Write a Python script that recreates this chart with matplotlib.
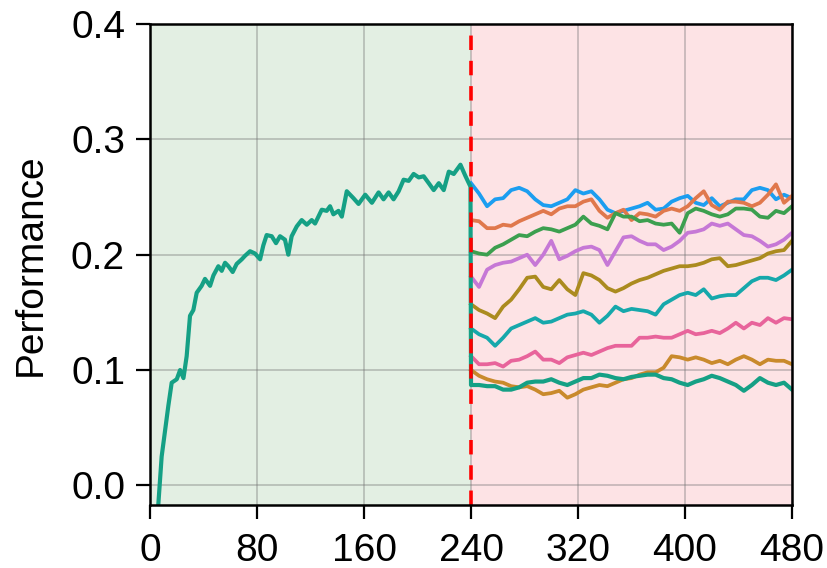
import matplotlib
matplotlib.use("Agg")
import matplotlib.pyplot as plt

plt.rcParams['font.family'] = ['Liberation Sans', 'DejaVu Sans']

# training phase (single run)
pre_x = [6, 8.7, 13.7, 16.2, 20, 22.5, 25, 27.4, 29.9, 32.4, 34.9, 38.6, 41.1, 44.9,
         47.4, 51.1, 53.6, 56.1, 58.6, 61.8, 64.8, 68.6, 71, 74.8, 78.5, 82.3, 84.7,
         87.2, 91, 94.2, 97.2, 100.9, 103.4, 105.9, 109.7, 113.4, 117.2, 120.9, 123.4,
         128.4, 132.1, 134.6, 137.1, 140.9, 143.4, 147.1, 152.1, 155.9, 160.9, 165.9,
         170.9, 174.6, 178.4, 182.1, 185.9, 189.6, 193.4, 197.1, 200.9, 204.6, 208.4,
         212.1, 215.9, 219.6, 223.4, 227.1, 232.1, 235.9, 239.6]
pre_y = [-0.02, 0.025, 0.069, 0.089, 0.092, 0.100, 0.093, 0.112, 0.147, 0.152, 0.167,
         0.173, 0.179, 0.173, 0.182, 0.190, 0.186, 0.193, 0.190, 0.185, 0.192, 0.196,
         0.199, 0.203, 0.201, 0.196, 0.208, 0.217, 0.216, 0.210, 0.216, 0.213, 0.200,
         0.216, 0.2245, 0.230, 0.226, 0.230, 0.227, 0.239, 0.238, 0.242, 0.235, 0.238,
         0.233, 0.255, 0.249, 0.244, 0.252, 0.245, 0.254, 0.248, 0.254, 0.248, 0.255,
         0.265, 0.264, 0.270, 0.267, 0.268, 0.262, 0.256, 0.262, 0.256, 0.272, 0.270,
         0.278, 0.268, 0.259]

# adaptation phase
post_x = [240, 246, 252, 258, 264, 270, 276, 282, 288, 294, 300, 306, 312, 318, 324,
          330, 336, 342, 348, 354, 360, 366, 372, 378, 384, 390, 396, 402, 408, 414,
          420, 426, 432, 438, 444, 450, 456, 462, 468, 474, 480]

blue = [0.262, 0.253, 0.242, 0.248, 0.249, 0.256, 0.258, 0.255, 0.248, 0.243, 0.242,
        0.245, 0.248, 0.256, 0.253, 0.255, 0.248, 0.239, 0.236, 0.238, 0.240, 0.242,
        0.245, 0.239, 0.240, 0.246, 0.249, 0.251, 0.245, 0.243, 0.249, 0.242, 0.245,
        0.248, 0.248, 0.256, 0.258, 0.256, 0.248, 0.252, 0.249]
orange = [0.230, 0.229, 0.223, 0.223, 0.226, 0.225, 0.229, 0.232, 0.235, 0.238, 0.235,
          0.240, 0.242, 0.242, 0.246, 0.248, 0.238, 0.232, 0.236, 0.239, 0.230, 0.236,
          0.235, 0.233, 0.238, 0.240, 0.238, 0.242, 0.249, 0.255, 0.243, 0.239, 0.246,
          0.246, 0.245, 0.242, 0.245, 0.252, 0.261, 0.245, 0.251]
green = [0.203, 0.201, 0.200, 0.206, 0.209, 0.213, 0.217, 0.216, 0.220, 0.223, 0.222,
         0.220, 0.223, 0.226, 0.233, 0.227, 0.225, 0.222, 0.236, 0.233, 0.233, 0.229,
         0.230, 0.227, 0.226, 0.227, 0.219, 0.236, 0.240, 0.238, 0.235, 0.233, 0.235,
         0.240, 0.240, 0.239, 0.233, 0.232, 0.238, 0.236, 0.242]
purple = [0.181, 0.172, 0.187, 0.191, 0.193, 0.194, 0.197, 0.200, 0.191, 0.200, 0.212,
          0.196, 0.199, 0.203, 0.206, 0.207, 0.204, 0.191, 0.203, 0.215, 0.216, 0.212,
          0.209, 0.209, 0.204, 0.207, 0.212, 0.219, 0.220, 0.222, 0.227, 0.225, 0.227,
          0.222, 0.217, 0.216, 0.212, 0.207, 0.209, 0.213, 0.219]
olive = [0.157, 0.152, 0.149, 0.145, 0.155, 0.161, 0.170, 0.180, 0.181, 0.172, 0.170,
         0.178, 0.170, 0.165, 0.184, 0.182, 0.178, 0.171, 0.168, 0.171, 0.175, 0.178,
         0.180, 0.183, 0.186, 0.188, 0.190, 0.190, 0.191, 0.193, 0.196, 0.197, 0.190,
         0.191, 0.193, 0.195, 0.197, 0.201, 0.203, 0.204, 0.212]
cyan = [0.136, 0.131, 0.128, 0.121, 0.128, 0.136, 0.139, 0.142, 0.145, 0.141, 0.142,
        0.145, 0.148, 0.149, 0.151, 0.148, 0.141, 0.147, 0.155, 0.151, 0.153, 0.152,
        0.151, 0.148, 0.157, 0.161, 0.165, 0.167, 0.165, 0.170, 0.162, 0.164, 0.165,
        0.165, 0.171, 0.177, 0.180, 0.180, 0.178, 0.182, 0.187]
pink = [0.112, 0.105, 0.105, 0.106, 0.103, 0.108, 0.109, 0.112, 0.116, 0.109, 0.109,
        0.106, 0.111, 0.113, 0.115, 0.113, 0.116, 0.119, 0.121, 0.121, 0.121, 0.128,
        0.128, 0.129, 0.128, 0.128, 0.131, 0.134, 0.131, 0.132, 0.134, 0.132, 0.136,
        0.141, 0.136, 0.141, 0.139, 0.145, 0.141, 0.145, 0.144]
brown = [0.100, 0.095, 0.092, 0.090, 0.089, 0.086, 0.085, 0.086, 0.083, 0.079, 0.080,
         0.082, 0.076, 0.079, 0.083, 0.085, 0.087, 0.086, 0.089, 0.092, 0.093, 0.096,
         0.098, 0.098, 0.102, 0.112, 0.111, 0.109, 0.111, 0.109, 0.106, 0.108, 0.105,
         0.109, 0.112, 0.109, 0.105, 0.109, 0.108, 0.108, 0.105]
teal = [0.087, 0.087, 0.086, 0.086, 0.083, 0.083, 0.085, 0.089, 0.090, 0.090, 0.092,
        0.089, 0.087, 0.090, 0.093, 0.093, 0.096, 0.095, 0.093, 0.092, 0.094, 0.095,
        0.096, 0.096, 0.093, 0.092, 0.089, 0.087, 0.090, 0.092, 0.095, 0.093, 0.090,
        0.087, 0.082, 0.087, 0.093, 0.089, 0.087, 0.089, 0.083]

x_ticks = [0, 80, 160, 240, 320, 400, 480]
y_ticks = [0.0, 0.1, 0.2, 0.3, 0.4]

others = [(blue, '#1c9ef0'), (orange, '#e0784c'), (green, '#3c9f4f'),
          (purple, '#c678d6'), (olive, '#ab8b1f'), (cyan, '#16a8ab'),
          (pink, '#e8649b'), (brown, '#c98a2c')]

fig = plt.figure(figsize=(8.27, 5.68), dpi=100)
ax = fig.add_axes([0.1814, 0.111, 0.7763, 0.8467])

ax.axvspan(0, 240, color='#e3efe3', zorder=0)
ax.axvspan(240, 480, color='#fde3e5', zorder=0)

for ys, c in others:
    ax.plot(post_x, ys, color=c, lw=2.7, zorder=3)

ax.plot(pre_x + post_x, pre_y + teal, color='#15a085', lw=3.0, zorder=4)

ax.axvline(240, color='#ff0000', ls=(0, (4, 3)), lw=2.6, zorder=5)

ax.set_xlim(0, 480)
ax.set_ylim(-0.017, 0.4)
ax.set_xticks(x_ticks)
ax.set_yticks(y_ticks)
ax.set_yticklabels(['%.1f' % v for v in y_ticks])
ax.grid(True, color='#707070', alpha=0.35, lw=1.4, zorder=1)
ax.set_axisbelow(True)
ax.tick_params(labelsize=28, length=10, width=1.6, pad=8)
ax.tick_params(axis='x', pad=10)
for s in ax.spines.values():
    s.set_linewidth(1.8)
    s.set_zorder(6)
ax.set_ylabel('Performance', fontsize=28, labelpad=16)

fig.savefig('out.png', dpi=100)
